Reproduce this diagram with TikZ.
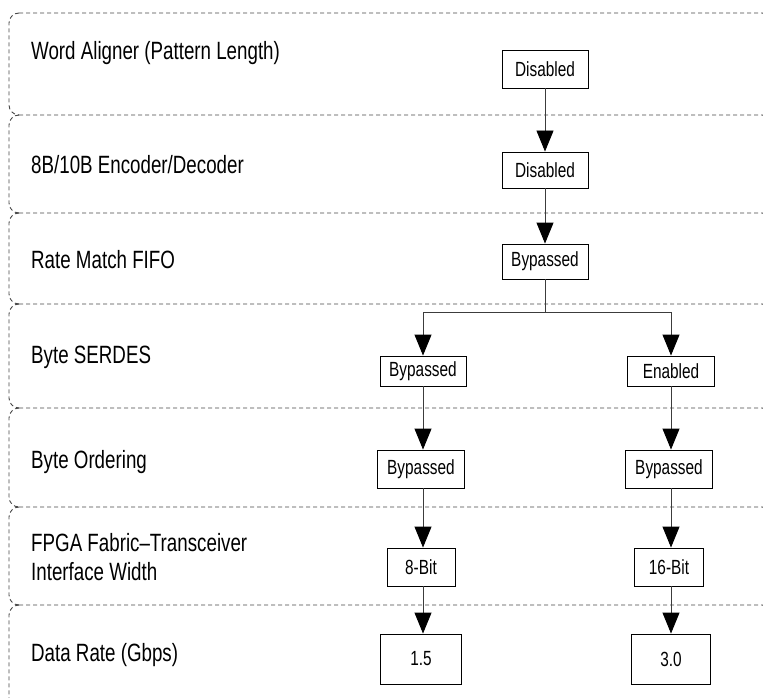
\documentclass[tikz,border=0pt]{standalone}
\usepackage{fontspec}
\setmainfont{Liberation Sans}[FakeStretch=0.75]
\usetikzlibrary{arrows.meta}
\definecolor{framec}{RGB}{70,70,70}
\definecolor{linec}{RGB}{60,60,60}
\tikzset{
  frame/.style={draw=framec, line width=0.9pt, dash pattern=on 4pt off 3pt},
  lbl/.style={anchor=west, inner sep=0pt, font=\fontsize{25}{29}\selectfont, align=left},
  box/.style={draw=black, line width=0.9pt, inner sep=0pt, font=\fontsize{20.5}{23}\selectfont},
  arr/.style={draw=linec, line width=0.9pt, -{Triangle[length=21pt,width=17pt,color=black]}},
  ln/.style={draw=linec, line width=0.9pt}
}
\begin{document}
\begin{tikzpicture}[x=1pt,y=1pt]
\useasboundingbox (0,0) rectangle (763,-698);
\begin{scope}
\clip (0,0) rectangle (763,-698);
% left parts of row frames
\foreach \t/\b in {13/115,115/213,213/304,304/408,408/507,507/605,605/709}{
  \draw[frame] (19,-\t) arc[start angle=90,end angle=180,radius=10pt] -- (9,-\b+10) arc[start angle=180,end angle=270,radius=10pt];
}
% horizontal separators
\foreach \y in {13,115,213,304,408,507,605}{
  \draw[frame] (19,-\y) -- (762,-\y) arc[start angle=90,end angle=0,radius=10pt];
}
\end{scope}
% row labels
\node[lbl] (l1) at (31,-53) {Word Aligner (Pattern Length)};
\node[lbl] (l2) at (31,-165) {8B/10B Encoder/Decoder};
\node[lbl] (l3) at (31,-260) {Rate Match FIFO};
\node[lbl] (l4) at (31,-357) {Byte SERDES};
\node[lbl] (l5) at (31,-462) {Byte Ordering};
\node[lbl] (l6) at (31,-557) {FPGA Fabric--Transceiver\\Interface Width};
\node[lbl] (l7) at (31,-655) {Data Rate (Gbps)};
% boxes
\node[box, minimum width=86pt, minimum height=38pt] (d1) at (545,-69) {Disabled};
\node[box, minimum width=86pt, minimum height=36pt] (d2) at (545,-170) {Disabled};
\node[box, minimum width=86pt, minimum height=35pt] (b3) at (545,-261.5) {Bypassed};
\node[box, minimum width=86pt, minimum height=30pt] (serL) at (423,-371) {Bypassed};
\node[box, minimum width=87pt, minimum height=30pt] (serR) at (671,-371) {Enabled};
\node[box, minimum width=87pt, minimum height=38pt] (ordL) at (421,-469) {Bypassed};
\node[box, minimum width=87pt, minimum height=38pt] (ordR) at (669,-469) {Bypassed};
\node[box, minimum width=68pt, minimum height=38pt] (w8) at (421,-567) {8-Bit};
\node[box, minimum width=69pt, minimum height=38pt] (w16) at (669,-567) {16-Bit};
\node[box, minimum width=81pt, minimum height=50pt] (r15) at (421,-659) {1.5};
\node[box, minimum width=79pt, minimum height=50pt] (r30) at (671,-659) {3.0};
% connectors
\coordinate (br) at (545,-312);
\draw[arr] (d1) -- (d2);
\draw[arr] (d2) -- (b3);
\draw[ln] (b3.south) -- (br);
\draw[arr] (br) -| (serL.north);
\draw[arr] (br) -| (serR.north);
\draw[arr] (serL.south) -- (serL.south |- ordL.north);
\draw[arr] (serR.south) -- (serR.south |- ordR.north);
\draw[arr] (serL.south |- ordL.south) -- (serL.south |- w8.north);
\draw[arr] (serR.south |- ordR.south) -- (serR.south |- w16.north);
\draw[arr] (serL.south |- w8.south) -- (serL.south |- r15.north);
\draw[arr] (serR.south |- w16.south) -- (serR.south |- r30.north);
\end{tikzpicture}
\end{document}
